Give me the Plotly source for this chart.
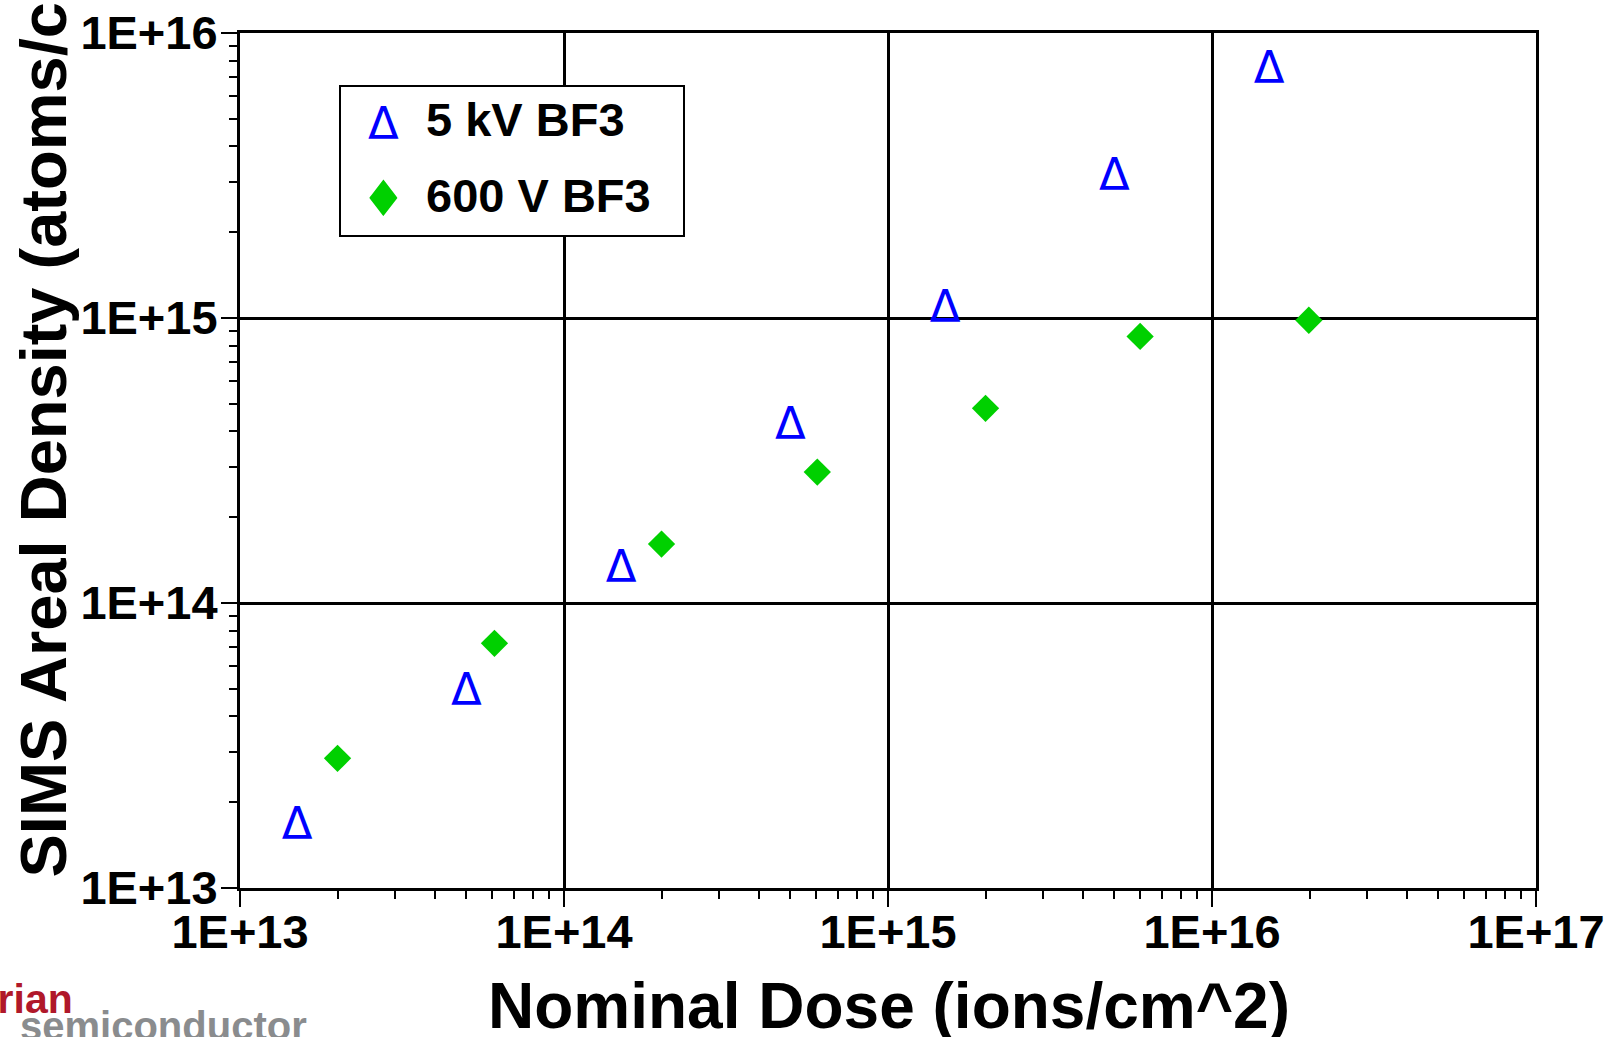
import plotly.graph_objects as go

# ---------------- data ----------------
series_names = ["5 kV BF3", "600 V BF3"]
dose_5kv = [1.5e13, 5.0e13, 1.5e14, 5.0e14, 1.5e15, 5.0e15, 1.5e16]
sims_5kv = [1.7e13, 5.02e13, 1.35e14, 4.3e14, 1.1e15, 3.21e15, 7.6e15]
dose_600v = [2.0e13, 6.1e13, 2.0e14, 6.05e14, 2.0e15, 6.0e15, 1.99e16]
sims_600v = [2.85e13, 7.22e13, 1.61e14, 2.88e14, 4.82e14, 8.62e14, 9.82e14]

x_tickvals = [1e13, 1e14, 1e15, 1e16, 1e17]
x_ticktext = ["1E+13", "1E+14", "1E+15", "1E+16", "1E+17"]
y_tickvals = [1e13, 1e14, 1e15, 1e16]
y_ticktext = ["1E+13", "1E+14", "1E+15", "1E+16"]

x_title = "Nominal Dose (ions/cm^2)"
y_title = "SIMS Areal Density (atoms/cm^2)"
logo_top = "varian"
logo_bottom = "semiconductor"

# ---------------- layout geometry ----------------
W, H = 1615, 1037
ML, MR, MT, MB = 240, 79, 33, 149
PW = W - ML - MR
PH = H - MT - MB
BOTTOM = H - MB


def fx(p):
    return (p - ML) / PW


def fy(p):
    return (BOTTOM - p) / PH


FONT = "Liberation Sans, Arial, sans-serif"
DELTA_FONT = "DejaVu Sans"
BLUE = "#0000ff"
GREEN = "#00d000"
# open-triangle glyph, nudged so its cap box is centred on the data point
DELTA_MARK = "<span style='baseline-shift:-5px'>Δ</span>"

fig = go.Figure()

fig.add_trace(go.Scatter(
    x=dose_5kv, y=sims_5kv, mode="text", text=[DELTA_MARK] * len(dose_5kv),
    textposition="middle center",
    textfont=dict(family=DELTA_FONT, size=45, color=BLUE),
    name=series_names[0], showlegend=False, hoverinfo="x+y+name",
))
fig.add_trace(go.Scatter(
    x=dose_600v, y=sims_600v, mode="markers",
    marker=dict(symbol="diamond", size=21, color=GREEN, line=dict(width=0)),
    name=series_names[1], showlegend=False,
))

axis_common = dict(
    type="log", automargin=False,
    showline=True, linecolor="black", linewidth=3, mirror=True,
    ticks="outside", ticklen=16, tickwidth=2, tickcolor="black",
    showgrid=True, gridcolor="black", gridwidth=2.5,
    zeroline=False,
    tickfont=dict(family=FONT, size=47, color="black", weight="bold"),
    minor=dict(ticks="outside", ticklen=8, tickwidth=2, tickcolor="black",
               dtick="D1", showgrid=False),
)

fig.update_xaxes(range=[13, 17], tickmode="array", tickvals=x_tickvals,
                 ticktext=x_ticktext, ticklabelstandoff=-15, **axis_common)
fig.update_yaxes(range=[13, 16], tickmode="array", tickvals=y_tickvals,
                 ticktext=y_ticktext, ticklabelstandoff=-6, **axis_common)

annotations = [
    # axis titles
    dict(text=x_title, xref="paper", yref="paper", x=fx(889), y=fy(968),
         xanchor="center", yanchor="top", showarrow=False,
         font=dict(family=FONT, size=64, color="black", weight="bold")),
    dict(text=y_title, xref="paper", yref="paper", x=fx(43), y=fy(880),
         xanchor="center", yanchor="bottom", textangle=-90, showarrow=False,
         font=dict(family=FONT, size=65, color="black", weight="bold")),
    # legend
    dict(text="Δ", xref="paper", yref="paper", x=fx(383), y=fy(124),
         xanchor="center", yanchor="middle", showarrow=False,
         font=dict(family=DELTA_FONT, size=45, color=BLUE)),
    dict(text="♦", xref="paper", yref="paper", x=fx(383), y=fy(199),
         xanchor="center", yanchor="middle", showarrow=False,
         font=dict(family="DejaVu Sans", size=50, color=GREEN)),
    dict(text=series_names[0], xref="paper", yref="paper", x=fx(424), y=fy(120),
         xanchor="left", yanchor="middle", showarrow=False,
         font=dict(family=FONT, size=47, color="black", weight="bold")),
    dict(text=series_names[1], xref="paper", yref="paper", x=fx(424), y=fy(195),
         xanchor="left", yanchor="middle", showarrow=False,
         font=dict(family=FONT, size=47, color="black", weight="bold")),
    # logo text
    dict(text=logo_top, xref="paper", yref="paper", x=fx(75), y=fy(1024),
         xanchor="right", yanchor="bottom", showarrow=False,
         font=dict(family=FONT, size=41, color="#b0182a", weight="bold")),
    dict(text=logo_bottom, xref="paper", yref="paper", x=fx(18), y=fy(1050),
         xanchor="left", yanchor="bottom", showarrow=False,
         font=dict(family=FONT, size=40, color="#8a8c8e", weight="bold")),
]

shapes = [
    dict(type="rect", xref="paper", yref="paper",
         x0=fx(340), x1=fx(684), y0=fy(236), y1=fy(86),
         line=dict(color="black", width=2), fillcolor="white", layer="above"),
]

fig.update_layout(
    width=W, height=H, autosize=False,
    margin=dict(l=ML, r=MR, t=MT, b=MB, pad=0, autoexpand=False),
    paper_bgcolor="white", plot_bgcolor="white",
    showlegend=False,
    annotations=annotations, shapes=shapes,
    font=dict(family=FONT),
)

fig.write_html("out.html")
